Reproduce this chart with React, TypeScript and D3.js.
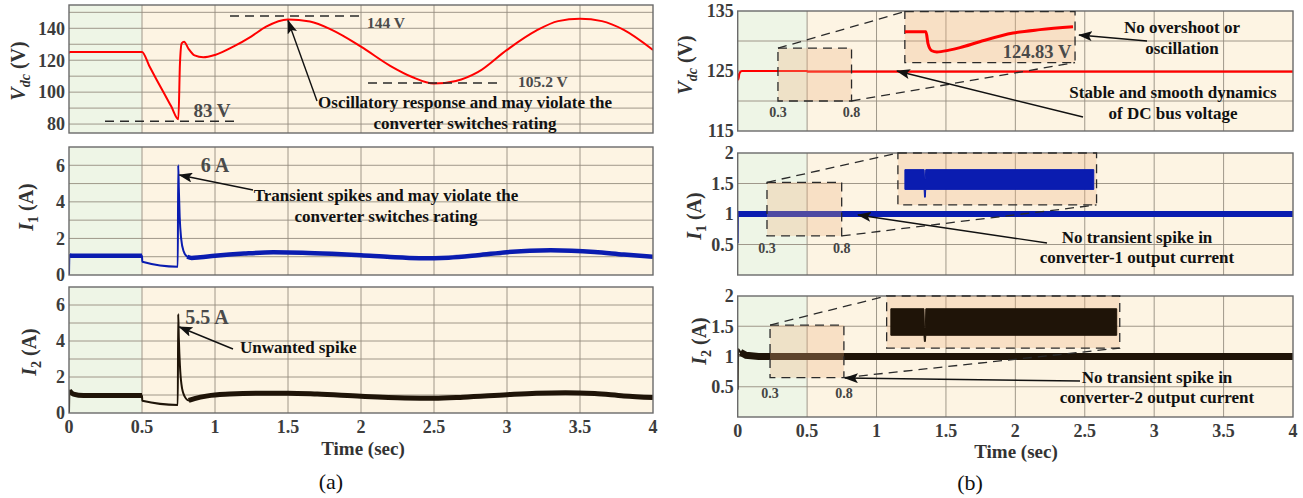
import React from "react";
import { scaleLinear, line, area, curveMonotoneX } from "d3";

// ---- shared axis data ----
const timeTicks = [0, 0.5, 1, 1.5, 2, 2.5, 3, 3.5, 4];
const timeTickLabels = ["0", "0.5", "1", "1.5", "2", "2.5", "3", "3.5", "4"];
const timeGrid = [0.5, 1, 1.5, 2, 2.5, 3, 3.5];
const phaseSwitch = 0.5;

// ---- (a) conventional response ----
const vdcATicks = [80, 100, 120, 140];
const vdcAGrid = [80, 90, 100, 110, 120, 130, 140, 150];
const vdcATime = [0, 0.005, 0.5, 0.55, 0.6, 0.65, 0.7, 0.749, 0.76, 0.772, 0.788, 0.82, 0.86, 0.92, 1.0, 1.125, 1.25, 1.35, 1.5, 1.65, 1.8, 2.0, 2.2, 2.35, 2.5, 2.65, 2.8, 3.0, 3.2, 3.35, 3.5, 3.65, 3.8, 4.0];
const vdcAValue = [124.3, 125.2, 125.2, 116.4, 107.8, 99.4, 91.1, 83, 118, 130.6, 131.6, 127, 123, 121.8, 123.3, 128.5, 135, 141, 145.5, 144.2, 139, 128.5, 116.5, 109.5, 105.4, 107, 112.5, 126.5, 138.5, 144.5, 146, 144.5, 139, 126.4];

const currentATicks = [0, 2, 4, 6];
const currentAGrid = [1, 2, 3, 4, 5, 6];
const i1ATime = [0, 0.003, 0.02, 0.5, 0.502, 0.745, 0.748, 0.752, 0.758, 0.768, 0.785, 0.81, 0.84, 0.9, 1.0, 1.2, 1.4, 1.6, 1.8, 2.0, 2.2, 2.4, 2.6, 2.8, 3.0, 3.3, 3.6, 3.8, 4.0];
const i1AValue = [0, 1.1, 1.05, 1.05, 0.72, 0.45, 6.0, 4.8, 3.2, 2.0, 1.3, 1.0, 0.93, 0.97, 1.05, 1.17, 1.24, 1.22, 1.16, 1.08, 0.98, 0.92, 0.95, 1.08, 1.25, 1.35, 1.26, 1.12, 1.0];
const i2ATime = [0, 0.003, 0.03, 0.1, 0.5, 0.502, 0.745, 0.748, 0.752, 0.76, 0.77, 0.79, 0.82, 0.86, 0.95, 1.1, 1.3, 1.5, 1.7, 2.0, 2.3, 2.5, 2.7, 3.0, 3.2, 3.4, 3.6, 3.8, 4.0];
const i2AValue = [0, 1.25, 1.05, 0.97, 0.97, 0.68, 0.45, 5.5, 4.2, 2.6, 1.6, 0.95, 0.7, 0.8, 0.95, 1.05, 1.1, 1.1, 1.05, 0.93, 0.84, 0.82, 0.88, 1.02, 1.1, 1.13, 1.08, 0.95, 0.86];

// ---- (b) proposed response ----
const vdcBTicks = [115, 125, 135];
const vdcBGrid = [120, 125, 130];
const vdcBTime = [0, 0.004, 0.012, 0.03, 0.5, 0.502, 4];
const vdcBValue = [123.8, 123.6, 124.6, 125, 125, 124.9, 124.9];
const vdcInsetTime = [0.3, 0.362, 0.368, 0.379, 0.394, 0.43, 0.462, 0.52, 0.618, 0.697, 0.794];
const vdcInsetValue = [125.0, 125.0, 124.9, 124.84, 124.83, 124.845, 124.866, 124.916, 124.989, 125.018, 125.042];

const currentBTicks = [0.5, 1, 1.5, 2];
const currentBGrid = [0.5, 1, 1.5];
const i1BTime = [0, 0.002, 4];
const i1BValue = [0.52, 1.0, 1.0];
const i1InsetTime = [0.3176, 0.366, 0.367, 0.369, 0.37, 0.793];
const i1InsetUpper = [1.036, 1.036, 1.0, 1.0, 1.036, 1.036];
const i1InsetLower = [0.96, 0.96, 0.93, 0.93, 0.96, 0.96];
const i2BTime = [0, 0.003, 0.02, 0.06, 0.15, 4];
const i2BValue = [0.45, 1.12, 1.07, 1.02, 1.0, 1.0];
const i2InsetTime = [0.309, 0.38, 0.381, 0.383, 0.384, 0.7935];
const i2InsetUpper = [1.051, 1.051, 0.98, 0.98, 1.051, 1.051];
const i2InsetLower = [0.949, 0.949, 0.925, 0.925, 0.949, 0.949];

const FONT = "'Liberation Serif', 'Times New Roman', serif";
const GREEN = "#eef5e6";
const CREAM = "#fdf4e3";
const GRID = "#958d80";
const FRAME = "#6a6a6a";
const TICK = "#3c3c3c";
const RED = "#ff0000";
const BLUE = "#0a1cb0";
const DARK = "#1f1408";
const ZOOMFILL = "rgba(240,180,130,0.3)";

type Pt = [number, number];
const zip = (t: number[], v: number[]): Pt[] => t.map((d, i) => [d, v[i]]);

function Panel(props: {
  id: string;
  xs: any;
  ys: any;
  yGrid: number[];
  yTicks: number[];
  tickText: (v: number) => string;
  children?: React.ReactNode;
}) {
  const { id, xs, ys, yGrid, yTicks, tickText, children } = props;
  const [x0, x1] = xs.range();
  const [yb, yt] = ys.range();
  const xm = xs(phaseSwitch);
  return (
    <g>
      <rect x={x0} y={yt} width={xm - x0} height={yb - yt} fill={GREEN} />
      <rect x={xm} y={yt} width={x1 - xm} height={yb - yt} fill={CREAM} />
      {yGrid.map((v) => (
        <line key={"h" + v} x1={x0} x2={x1} y1={ys(v)} y2={ys(v)} stroke={GRID} strokeWidth={0.9} />
      ))}
      {timeGrid.map((t) => (
        <line key={"v" + t} x1={xs(t)} x2={xs(t)} y1={yt} y2={yb} stroke={GRID} strokeWidth={0.9} />
      ))}
      <clipPath id={id}>
        <rect x={x0} y={yt} width={x1 - x0} height={yb - yt} />
      </clipPath>
      <g clipPath={`url(#${id})`}>{children}</g>
      <rect x={x0} y={yt} width={x1 - x0} height={yb - yt} fill="none" stroke={FRAME} strokeWidth={1.4} />
      {yTicks.map((v) => (
        <text key={"t" + v} x={x0 - 4} y={ys(v)} dy="0.35em" textAnchor="end" fontSize={18} fontWeight="bold" fill={TICK}>
          {tickText(v)}
        </text>
      ))}
    </g>
  );
}

function YLabel(props: { x: number; y: number; main: string; sub: string; unit: string; subItalic?: boolean }) {
  const { x, y, main, sub, unit, subItalic } = props;
  return (
    <text transform={`translate(${x},${y}) rotate(-90)`} textAnchor="middle" dy="0.35em" fontSize={20} fontWeight="bold" fill="#333">
      <tspan fontStyle="italic">{main}</tspan>
      <tspan fontStyle={subItalic ? "italic" : "normal"} fontSize={14} dy={5}>{sub}</tspan>
      <tspan dy={-5}>{" (" + unit + ")"}</tspan>
    </text>
  );
}

function Arrow(props: { x1: number; y1: number; x2: number; y2: number }) {
  const { x1, y1, x2, y2 } = props;
  return <line x1={x1} y1={y1} x2={x2} y2={y2} stroke="#111" strokeWidth={1.4} markerEnd="url(#arrowHead)" />;
}

function Note(props: { x: number; y: number; lines: string[]; anchor?: string; size?: number; fill?: string; gap?: number }) {
  const { x, y, lines, anchor = "middle", size = 17, fill = "#111", gap = 21 } = props;
  return (
    <g>
      {lines.map((s, i) => (
        <text key={i} x={x} y={y + i * gap} dy="0.35em" textAnchor={anchor as any} fontSize={size} fontWeight="bold" fill={fill}>
          {s}
        </text>
      ))}
    </g>
  );
}

function Dashed(props: { x1: number; y1: number; x2: number; y2: number }) {
  return <line {...props} stroke="#2a2a2a" strokeWidth={1.3} strokeDasharray="9,6" />;
}

function ZoomBox(props: {
  xs: any;
  ys: any;
  box: [number, number, number, number];
  inset: [number, number, number, number];
  labels: [string, string];
  labelY: number;
  children?: React.ReactNode;
}) {
  const { xs, ys, box, inset, labels, labelY, children } = props;
  const bx0 = xs(box[0]), bx1 = xs(box[1]), by0 = ys(box[3]), by1 = ys(box[2]);
  const ix0 = xs(inset[0]), ix1 = xs(inset[1]), iy0 = ys(inset[3]), iy1 = ys(inset[2]);
  return (
    <g>
      <rect x={bx0} y={by0} width={bx1 - bx0} height={by1 - by0} fill={ZOOMFILL} stroke="#2a2a2a" strokeWidth={1.3} strokeDasharray="9,6" />
      <rect x={ix0} y={iy0} width={ix1 - ix0} height={iy1 - iy0} fill={ZOOMFILL} stroke="#2a2a2a" strokeWidth={1.3} strokeDasharray="9,6" />
      <Dashed x1={bx0} y1={by0} x2={ix0} y2={iy0} />
      <Dashed x1={bx1} y1={by1} x2={ix1} y2={iy1} />
      {children}
      <text x={bx0} y={labelY} dy="0.35em" textAnchor="middle" fontSize={14} fontWeight="bold" fill="#444">{labels[0]}</text>
      <text x={bx1} y={labelY} dy="0.35em" textAnchor="middle" fontSize={14} fontWeight="bold" fill="#444">{labels[1]}</text>
    </g>
  );
}

export default function App() {
  // left column (a)
  const xa = scaleLinear().domain([0, 4]).range([69, 653]);
  const yVa = scaleLinear().domain([74.4, 154.6]).range([133, 5]);
  const yI1a = scaleLinear().domain([0, 7]).range([275, 147]);
  const yI2a = scaleLinear().domain([0, 7]).range([413, 287]);
  // right column (b)
  const xb = scaleLinear().domain([0, 4]).range([737.7, 1293]);
  const yVb = scaleLinear().domain([115, 135]).range([131, 11]);
  const yI1b = scaleLinear().domain([0, 2]).range([275, 153]);
  const yI2b = scaleLinear().domain([0, 2]).range([417, 296]);

  const mk = (xs: any, ys: any) =>
    line<Pt>().x((d) => xs(d[0])).y((d) => ys(d[1])).curve(curveMonotoneX);
  const ripple = (xs: any, ys: any) =>
    line<Pt>()
      .defined((d) => (d[0] > 0.001 && d[0] <= 0.5) || d[0] > 0.8)
      .x((d) => xs(d[0]))
      .y((d) => ys(d[1]))
      .curve(curveMonotoneX);
  const band = (xs: any, ys: any) =>
    area<[number, number, number]>().x((d) => xs(d[0])).y0((d) => ys(d[1])).y1((d) => ys(d[2]));

  const vdcA = zip(vdcATime, vdcAValue);
  const i1A = zip(i1ATime, i1AValue);
  const i2A = zip(i2ATime, i2AValue);
  const vdcB = zip(vdcBTime, vdcBValue);
  const i1B = zip(i1BTime, i1BValue);
  const i2B = zip(i2BTime, i2BValue);

  // inset scales (b)
  const vInsX = scaleLinear().domain([0.3, 0.8]).range([xb(1.204), xb(2.43)]);
  const vInsY = scaleLinear().domain([124.74, 125.17]).range([yVb(126.4), yVb(134.9)]);
  const i1InsX = scaleLinear().domain([0.3, 0.8]).range([xb(1.154), xb(2.585)]);
  const i1InsY = scaleLinear().domain([0.9, 1.1]).range([yI1b(1.148), yI1b(2.0)]);
  const i2InsX = scaleLinear().domain([0.3, 0.8]).range([xb(1.073), xb(2.752)]);
  const i2InsY = scaleLinear().domain([0.9, 1.1]).range([yI2b(1.14), yI2b(2.0)]);

  const i1Band = i1InsetTime.map((t, i) => [t, i1InsetLower[i], i1InsetUpper[i]] as [number, number, number]);
  const i2Band = i2InsetTime.map((t, i) => [t, i2InsetLower[i], i2InsetUpper[i]] as [number, number, number]);

  const fmt = (v: number) => String(v);

  return (
    <svg width={1303} height={498} style={{ position: "absolute", left: 0, top: 0, background: "#fff" }} fontFamily={FONT}>
      <defs>
        <marker id="arrowHead" markerUnits="userSpaceOnUse" markerWidth={14} markerHeight={10} refX={13} refY={5} orient="auto">
          <path d="M0,0 L14,5 L0,10 L3,5 z" fill="#111" />
        </marker>
      </defs>

      {/* ---------- (a) ---------- */}
      <Panel id="ca1" xs={xa} ys={yVa} yGrid={vdcAGrid} yTicks={vdcATicks} tickText={fmt}>
        <path d={mk(xa, yVa)(vdcA) || ""} fill="none" stroke={RED} strokeWidth={2} />
      </Panel>
      <Panel id="ca2" xs={xa} ys={yI1a} yGrid={currentAGrid} yTicks={currentATicks} tickText={fmt}>
        <path d={mk(xa, yI1a)(i1A) || ""} fill="none" stroke={BLUE} strokeWidth={2} />
        <path d={ripple(xa, yI1a)(i1A) || ""} fill="none" stroke={BLUE} strokeWidth={4.5} />
      </Panel>
      <Panel id="ca3" xs={xa} ys={yI2a} yGrid={currentAGrid} yTicks={currentATicks} tickText={fmt}>
        <path d={mk(xa, yI2a)(i2A) || ""} fill="none" stroke={DARK} strokeWidth={2} />
        <path d={ripple(xa, yI2a)(i2A) || ""} fill="none" stroke={DARK} strokeWidth={5} />
      </Panel>

      {timeTicks.map((t, i) => (
        <text key={"xa" + t} x={xa(t)} y={427} dy="0.35em" textAnchor="middle" fontSize={18} fontWeight="bold" fill={TICK}>
          {timeTickLabels[i]}
        </text>
      ))}
      <text x={363} y={448} dy="0.35em" textAnchor="middle" fontSize={19} fontWeight="bold" fill="#333">Time (sec)</text>
      <text x={331} y={481} dy="0.35em" textAnchor="middle" fontSize={22} fill="#111">(a)</text>

      <YLabel x={18} y={71} main="V" sub="dc" unit="V" subItalic />
      <YLabel x={26} y={207} main="I" sub="1" unit="A" />
      <YLabel x={29} y={352} main="I" sub="2" unit="A" />

      {/* annotations (a) */}
      <Dashed x1={105} y1={yVa(83) + 2} x2={235} y2={yVa(83) + 2} />
      <Note x={212} y={110} lines={["83 V"]} size={19} fill="#4a4a4a" />
      <Dashed x1={230} y1={16} x2={360} y2={16} />
      <Note x={367} y={23} lines={["144 V"]} anchor="start" size={15.5} fill="#4a4a4a" />
      <Dashed x1={368} y1={83} x2={497} y2={83} />
      <Note x={518} y={82} lines={["105.2 V"]} anchor="start" size={15.5} fill="#4a4a4a" />
      <Arrow x1={317} y1={101} x2={xa(1.5)} y2={yVa(145.5) + 1} />
      <Note x={465} y={102} lines={["Oscillatory response and may violate the", "converter switches rating"]} />

      <Note x={215} y={165} lines={["6 A"]} size={20} fill="#4a4a4a" />
      <Arrow x1={253} y1={190} x2={xa(0.749) + 1} y2={175} />
      <Note x={386} y={195} lines={["Transient spikes and may violate the", "converter switches rating"]} />

      <Note x={207} y={317} lines={["5.5 A"]} size={20} fill="#4a4a4a" />
      <Arrow x1={233} y1={349} x2={xa(0.749) + 1} y2={327} />
      <Note x={240} y={347} lines={["Unwanted spike"]} anchor="start" />

      {/* ---------- (b) ---------- */}
      <Panel id="cb1" xs={xb} ys={yVb} yGrid={vdcBGrid} yTicks={vdcBTicks} tickText={fmt}>
        <path d={mk(xb, yVb)(vdcB) || ""} fill="none" stroke={RED} strokeWidth={2.2} />
      </Panel>
      <Panel id="cb2" xs={xb} ys={yI1b} yGrid={currentBGrid} yTicks={currentBTicks} tickText={fmt}>
        <path d={mk(xb, yI1b)(i1B) || ""} fill="none" stroke={BLUE} strokeWidth={2} />
        <path d={line<Pt>().defined((d) => d[0] > 0.001).x((d) => xb(d[0])).y((d) => yI1b(d[1]))(i1B) || ""} fill="none" stroke={BLUE} strokeWidth={6} />
      </Panel>
      <Panel id="cb3" xs={xb} ys={yI2b} yGrid={currentBGrid} yTicks={currentBTicks} tickText={fmt}>
        <path d={mk(xb, yI2b)(i2B) || ""} fill="none" stroke={DARK} strokeWidth={2} />
        <path d={line<Pt>().defined((d) => d[0] > 0.01).x((d) => xb(d[0])).y((d) => yI2b(d[1]))(i2B) || ""} fill="none" stroke={DARK} strokeWidth={7} />
      </Panel>

      <ZoomBox xs={xb} ys={yVb} box={[0.29, 0.82, 120, 128.8]} inset={[1.204, 2.43, 126.4, 134.9]} labels={["0.3", "0.8"]} labelY={112}>
        <path d={mk(vInsX, vInsY)(zip(vdcInsetTime, vdcInsetValue)) || ""} fill="none" stroke={RED} strokeWidth={3} />
      </ZoomBox>
      <ZoomBox xs={xb} ys={yI1b} box={[0.211, 0.749, 0.64, 1.52]} inset={[1.154, 2.585, 1.148, 2.0]} labels={["0.3", "0.8"]} labelY={248}>
        <path d={band(i1InsX, i1InsY)(i1Band) || ""} fill={BLUE} stroke={BLUE} strokeWidth={1} />
      </ZoomBox>
      <ZoomBox xs={xb} ys={yI2b} box={[0.233, 0.765, 0.65, 1.52]} inset={[1.073, 2.752, 1.14, 2.0]} labels={["0.3", "0.8"]} labelY={393}>
        <path d={band(i2InsX, i2InsY)(i2Band) || ""} fill={DARK} stroke={DARK} strokeWidth={1} />
      </ZoomBox>

      {timeTicks.map((t, i) => (
        <text key={"xb" + t} x={xb(t)} y={431} dy="0.35em" textAnchor="middle" fontSize={18} fontWeight="bold" fill={TICK}>
          {timeTickLabels[i]}
        </text>
      ))}
      <text x={1016} y={451} dy="0.35em" textAnchor="middle" fontSize={19} fontWeight="bold" fill="#333">Time (sec)</text>
      <text x={970} y={482} dy="0.35em" textAnchor="middle" fontSize={22} fill="#111">(b)</text>

      <YLabel x={685} y={65} main="V" sub="dc" unit="V" subItalic />
      <YLabel x={694} y={216} main="I" sub="1" unit="A" />
      <YLabel x={699} y={341} main="I" sub="2" unit="A" />

      {/* annotations (b) */}
      <Note x={1037} y={52} lines={["124.83 V"]} size={18.5} fill="#4a4a4a" />
      <Note x={1182} y={27} lines={["No overshoot or", "oscillation"]} />
      <Arrow x1={1147} y1={41} x2={1079} y2={35} />
      <Note x={1173} y={92} lines={["Stable and smooth dynamics", "of DC bus voltage"]} />
      <Arrow x1={1083} y1={117} x2={897} y2={71} />
      <Note x={1137} y={237} lines={["No transient spike in", "converter-1 output current"]} gap={20} />
      <Arrow x1={1047} y1={243} x2={858} y2={215} />
      <Note x={1157} y={377} lines={["No transient spike in", "converter-2 output current"]} gap={20} />
      <Arrow x1={1080} y1={381} x2={845} y2={378} />
    </svg>
  );
}
